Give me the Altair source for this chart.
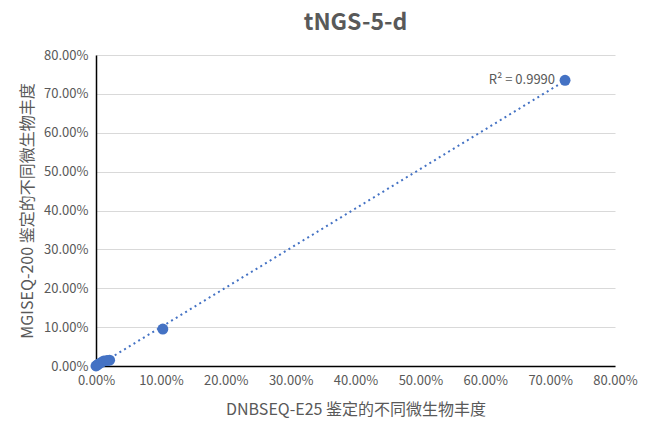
import altair as alt
import pandas as pd

# Data (fractions)
dnbseq = [0.0000, 0.0015, 0.0040, 0.0080, 0.0120, 0.0170, 0.0210, 0.1030, 0.7230]
mgiseq = [0.0000, 0.0020, 0.0050, 0.0090, 0.0130, 0.0140, 0.0150, 0.0950, 0.7350]
tick_values = [0.0, 0.1, 0.2, 0.3, 0.4, 0.5, 0.6, 0.7, 0.8]
r2_label = ["R² = 0.9990"]

df = pd.DataFrame({"x": dnbseq, "y": mgiseq})
ann = pd.DataFrame({"x": [dnbseq[-1]], "y": [mgiseq[-1]], "t": r2_label})

blue = "#4472C4"
grey = "#595959"
font = "Noto Sans CJK SC"

xs = alt.Scale(domain=[0, 0.8], nice=False)
ys = alt.Scale(domain=[0, 0.8], nice=False)

xaxis = alt.Axis(format=".2%", values=tick_values, grid=False, labelOverlap=False, labelFlush=False,
                 domainColor="black", domainWidth=1.5, ticks=False,
                 labelColor=grey, labelFont=font, labelFontSize=13, labelPadding=8,
                 title="DNBSEQ-E25 鉴定的不同微生物丰度", titleColor=grey, titleFont=font,
                 titleFontSize=16, titleFontWeight="normal", titlePadding=14)
yaxis = alt.Axis(format=".2%", values=tick_values, grid=True, labelOverlap=False, labelFlush=False,
                 gridColor="#d9d9d9", gridWidth=1, domainColor="black", domainWidth=1.5,
                 ticks=False, labelColor=grey, labelFont=font, labelFontSize=13,
                 labelPadding=8, title="MGISEQ-200 鉴定的不同微生物丰度", titleColor=grey,
                 titleFont=font, titleFontSize=16, titleFontWeight="normal", titlePadding=8)

X = alt.X("x:Q", scale=xs, axis=xaxis)
Y = alt.Y("y:Q", scale=ys, axis=yaxis)

trend = alt.Chart(df).transform_regression("x", "y", extent=[0, 0.7230]).mark_line(
    color=blue, strokeWidth=2, strokeDash=[2, 3.5]
).encode(x=X, y=Y)

points = alt.Chart(df).mark_circle(color=blue, size=120, opacity=1).encode(x=X, y=Y)

text = alt.Chart(ann).mark_text(align="right", baseline="middle", dx=-10, dy=0,
                                font=font, fontSize=13, color=grey).encode(
    x=X, y=Y, text="t:N"
)

chart = alt.layer(trend, points, text).properties(
    width=519, height=311,
    title=alt.TitleParams("tNGS-5-d", font=font, fontSize=23, fontWeight="bold",
                          color=grey, anchor="middle", offset=14),
    padding={"left": 88, "top": 47, "right": 38, "bottom": 53},
    autosize=alt.AutoSizeParams(type="none"),
).configure_view(stroke=None)

chart.save("out.html", embed_options={"renderer": "svg", "actions": False})
